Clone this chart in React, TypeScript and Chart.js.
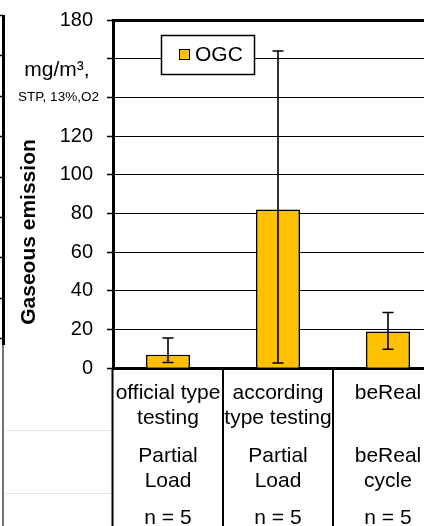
import React, { useEffect, useRef } from "react";
import { Chart, registerables } from "chart.js";

Chart.register(...registerables);

const FONT = "'Liberation Sans', Arial, Helvetica, sans-serif";

// ---- data ----
const testNames: string[][] = [
  ["official type", "testing"],
  ["according", "type testing"],
  ["beReal", ""],
];
const loadNames: string[][] = [
  ["Partial", "Load"],
  ["Partial", "Load"],
  ["beReal", "cycle"],
];
const sampleCounts: string[] = ["n = 5", "n = 5", "n = 5"];
const seriesName = "OGC";
const ogcMeans: number[] = [7, 82, 19];
const ogcLow: number[] = [3, 2.7, 9.8];
const ogcHigh: number[] = [15.6, 164, 28.8];
const yTicksHidden: number[] = [160, 140];
const unitMain = "mg/m³,";
const unitSub = "STP, 13%,O2";
const yTitle = "Gaseous emission";

const BAR_COLOR = "#FFC000";

// build multi-line category labels (blank lines used as spacers)
const categoryLabels = testNames.map((t, i) => [
  t[0],
  "",
  t[1],
  "",
  "",
  loadNames[i][0],
  "",
  loadNames[i][1],
  "",
  "",
  sampleCounts[i],
]);

export default function App() {
  const ref = useRef<HTMLCanvasElement>(null);

  useEffect(() => {
    const canvas = ref.current!;

    const overlay = {
      id: "overlay",
      afterDatasetsDraw(chart: any) {
        const ctx = chart.ctx;
        const y = chart.scales.y;
        const meta = chart.getDatasetMeta(0);
        ctx.save();
        ctx.strokeStyle = "#000";
        ctx.lineWidth = 1.6;
        meta.data.forEach((bar: any, i: number) => {
          const x = bar.x;
          const yl = y.getPixelForValue(ogcLow[i]);
          const yh = y.getPixelForValue(ogcHigh[i]);
          ctx.beginPath();
          ctx.moveTo(x, yl);
          ctx.lineTo(x, yh);
          ctx.moveTo(x - 5.5, yl);
          ctx.lineTo(x + 5.5, yl);
          ctx.moveTo(x - 5.5, yh);
          ctx.lineTo(x + 5.5, yh);
          ctx.stroke();
        });
        ctx.restore();
      },
      afterDraw(chart: any) {
        const ctx = chart.ctx;
        const area = chart.chartArea;
        const y = chart.scales.y;
        const x = chart.scales.x;
        const H = chart.height;
        ctx.save();

        // category separators below the axis
        ctx.strokeStyle = "#000";
        ctx.lineWidth = 2;
        ctx.beginPath();
        ctx.moveTo(area.left - 0.5, area.bottom);
        ctx.lineTo(area.left - 0.5, H);
        for (let i = 0; i < ogcMeans.length - 1; i++) {
          const bx = Math.round((x.getPixelForValue(i) + x.getPixelForValue(i + 1)) / 2);
          ctx.moveTo(bx, area.bottom);
          ctx.lineTo(bx, H);
        }
        ctx.stroke();

        // fragment of neighbouring panel at left edge
        ctx.strokeStyle = "#000";
        ctx.lineWidth = 3;
        ctx.beginPath();
        ctx.moveTo(3.5, 15);
        ctx.lineTo(3.5, 345);
        ctx.stroke();
        ctx.lineWidth = 1.5;
        ctx.beginPath();
        for (let k = 0; k < 9; k++) {
          const ty = Math.round(15 + k * 40.4) + 0.5;
          ctx.moveTo(0, ty);
          ctx.lineTo(3, ty);
        }
        ctx.stroke();
        ctx.strokeStyle = "#444";
        ctx.lineWidth = 1.5;
        ctx.beginPath();
        ctx.moveTo(3, 345);
        ctx.lineTo(3, H);
        ctx.stroke();
        ctx.strokeStyle = "#e4e4e4";
        ctx.lineWidth = 1;
        ctx.beginPath();
        ctx.moveTo(5, 430.5);
        ctx.lineTo(111, 430.5);
        ctx.moveTo(5, 493.5);
        ctx.lineTo(111, 493.5);
        ctx.stroke();

        // unit labels on y axis
        ctx.fillStyle = "#000";
        ctx.textAlign = "center";
        ctx.textBaseline = "middle";
        ctx.font = `21px ${FONT}`;
        ctx.fillText(unitMain, 57, y.getPixelForValue(yTicksHidden[0]) + 12);
        ctx.font = `13.5px ${FONT}`;
        ctx.fillText(unitSub, 58.5, y.getPixelForValue(yTicksHidden[1]));

        // axis title
        ctx.save();
        ctx.translate(29, 232);
        ctx.rotate(-Math.PI / 2);
        ctx.font = `bold 21px ${FONT}`;
        ctx.fillText(yTitle, 0, 0);
        ctx.restore();

        // legend box
        const lx = area.left + 48;
        const ly = area.top + 15;
        const lw = 93;
        const lh = 39;
        ctx.fillStyle = "#fff";
        ctx.fillRect(lx, ly, lw, lh);
        ctx.strokeStyle = "#000";
        ctx.lineWidth = 1.5;
        ctx.strokeRect(lx + 0.5, ly + 0.5, lw, lh);
        ctx.fillStyle = BAR_COLOR;
        ctx.fillRect(lx + 18, ly + 14, 11, 11);
        ctx.lineWidth = 1;
        ctx.strokeRect(lx + 18.5, ly + 14.5, 10, 10);
        ctx.fillStyle = "#000";
        ctx.textAlign = "left";
        ctx.font = `21px ${FONT}`;
        ctx.fillText(seriesName, lx + 34, ly + 20.5);

        ctx.restore();
      },
    };

    const chart = new Chart(canvas, {
      type: "bar",
      data: {
        labels: categoryLabels,
        datasets: [
          {
            label: seriesName,
            data: ogcMeans,
            backgroundColor: BAR_COLOR,
            borderColor: "#000",
            borderWidth: 1.6,
            barPercentage: 0.4,
            categoryPercentage: 1,
          },
        ],
      },
      options: {
        animation: false,
        responsive: false,
        devicePixelRatio: 1,
        layout: { padding: { left: 0, top: 19, right: 9, bottom: 1.75 } },
        plugins: {
          legend: { display: false },
          tooltip: { enabled: false },
        },
        scales: {
          x: {
            offset: true,
            grid: { display: false, drawTicks: false },
            border: { display: true, color: "#000", width: 3 },
            ticks: {
              color: "#000",
              font: { family: FONT, size: 21, lineHeight: 12.5 / 21 },
              padding: 18.75,
              maxRotation: 0,
              autoSkip: false,
            },
          },
          y: {
            min: 0,
            max: 180,
            afterFit: (s: any) => {
              s.width = 113;
            },
            grid: {
              color: "#000",
              lineWidth: (c: any) => (c.tick && c.tick.value === 180 ? 3 : 1),
              tickWidth: 1.5,
              tickLength: 6,
              drawTicks: true,
            },
            border: { display: true, color: "#000", width: 3 },
            ticks: {
              stepSize: 20,
              color: "#000",
              padding: 14,
              font: { family: FONT, size: 20, lineHeight: 0.6 },
              callback: (v: any) => (yTicksHidden.includes(Number(v)) ? "" : String(v)),
            },
          },
        },
      },
      plugins: [overlay],
    });
    return () => chart.destroy();
  }, []);

  return (
    <div
      style={{
        position: "fixed",
        left: 0,
        top: 0,
        width: 424,
        height: 526,
        overflow: "hidden",
        background: "#fff",
      }}
    >
      <canvas ref={ref} width={452} height={545} style={{ display: "block", width: 452, height: 545 }} />
    </div>
  );
}
